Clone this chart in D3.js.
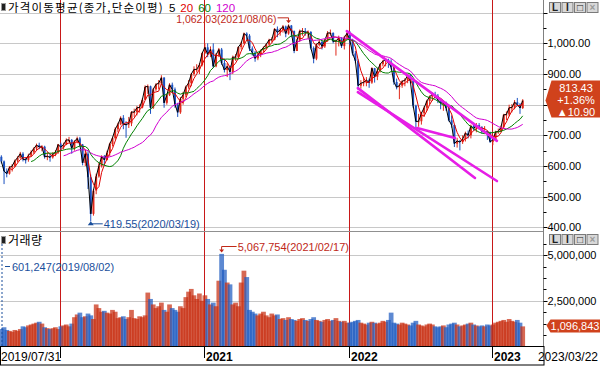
<!DOCTYPE html>
<html>
<head>
<meta charset="utf-8">
<script src="https://cdn.jsdelivr.net/npm/d3@7"></script>
<style>
body { margin: 0; background: #fff; }
svg { display: block; }
text { font-family: "Liberation Sans", Arial, sans-serif; }
.kr { font-family: "Noto Sans CJK KR", sans-serif; }
</style>
</head>
<body>
<div id="chart"></div>
<script>
// weekly bars, week 0 = week of 2019/07/31, week 190 = week of 2023/03/22
let weekClose = [
    615, 583, 575, 595, 600, 617, 627, 640, 622, 620, 634, 645, 657, 668, 662, 663, 630, 632, 628, 638, 645, 670,
    661, 670, 685, 685, 658, 680, 690, 670, 610,
    640, 563, 444, 520, 566, 600,
    630, 620, 643, 672, 691, 720, 736, 757, 736, 735, 739, 776, 776, 790, 791, 816, 858, 860,
    790, 850, 866, 870, 888, 806, 831, 865, 850, 800, 775, 819, 832, 858, 870, 900, 915, 915, 930, 968,
    987, 964, 980, 925, 963, 980, 936, 913, 925, 907, 955, 955, 988, 1000, 1032, 1025, 983, 970, 951, 962, 977, 986, 997, 1011, 1012, 1047,
    1036, 1044, 1055, 1032, 1058, 1040, 975, 1009, 1040, 1040, 1036, 1037, 985, 950, 995, 1005, 990, 1010, 1034, 1034, 1006, 1008, 1017, 991, 1019, 1033,
    1010, 967, 943, 862, 870, 873, 880, 872, 919, 891, 911, 932, 942, 946, 940, 922, 874, 857, 862, 876, 880, 895, 877, 797,
    745, 746, 772, 790, 812, 826, 834, 829, 815, 805, 806, 789, 749, 734, 673, 682, 678, 688, 707, 700, 731, 722, 733, 726, 713, 714, 709, 679,
    685, 711, 713, 727, 767, 768, 790, 791, 808, 800, 789, 813.43
];
let weekHigh = [
    635, 618, 592, 600, 606, 621, 632, 646, 645, 628, 640, 651, 661, 673, 676, 668, 666, 645, 640, 645, 652, 672,
    676, 676, 690, 695, 688, 684, 696, 695, 672,
    650, 648, 572, 525, 575, 610,
    635, 636, 650, 676, 696, 726, 741, 762, 766, 746, 760, 779, 787, 796, 801, 821, 863, 866,
    862, 855, 870, 880, 896, 890, 836, 870, 872, 856, 806, 825, 842, 862, 880, 903, 925, 932, 936, 970,
    1000, 1000, 990, 1000, 968, 985, 985, 950, 935, 928, 960, 965, 990, 1005, 1035, 1036, 1030, 990, 975, 968, 980, 990, 1000, 1015, 1020, 1050,
    1055, 1050, 1060, 1058, 1062.03, 1060, 1042, 1015, 1045, 1050, 1050, 1042, 1040, 990, 1000, 1012, 1010, 1015, 1040, 1045, 1036, 1012, 1025, 1020, 1025, 1040,
    1040, 1015, 975, 948, 880, 890, 890, 885, 922, 920, 920, 935, 946, 952, 950, 948, 924, 885, 870, 880, 886, 900, 900, 878,
    800, 770, 776, 795, 816, 830, 840, 842, 835, 820, 815, 810, 795, 765, 736, 692, 685, 700, 712, 716, 735, 742, 740, 740, 730, 730, 716, 712,
    695, 715, 722, 732, 770, 778, 800, 802, 815, 822, 805, 818
];
let weekLow = [
    608, 541, 563, 572, 582, 596, 612, 624, 615, 608, 614, 630, 640, 650, 655, 648, 624, 619, 614, 624, 632, 640,
    652, 654, 668, 678, 640, 650, 674, 664, 602,
    600, 525, 419.55, 438, 508, 562,
    595, 602, 618, 632, 664, 686, 710, 733, 720, 692, 724, 730, 760, 765, 774, 788, 815, 835,
    770, 786, 845, 850, 865, 790, 800, 828, 840, 790, 760, 770, 800, 825, 852, 860, 893, 905, 900, 925,
    965, 955, 955, 920, 922, 955, 930, 905, 890, 880, 900, 943, 950, 980, 998, 1010, 975, 960, 940, 945, 955, 970, 980, 993, 1003, 1010,
    1020, 1025, 1035, 1020, 1028, 1020, 968, 975, 1005, 1025, 1025, 1015, 980, 935, 945, 990, 980, 985, 1005, 1025, 1000, 960, 990, 985, 980, 1015,
    995, 960, 935, 848, 852, 860, 860, 855, 868, 872, 880, 905, 925, 925, 920, 915, 865, 850, 818, 855, 860, 870, 870, 790,
    718, 728, 735, 760, 780, 800, 812, 820, 805, 785, 780, 780, 745, 725, 662, 660, 651, 672, 680, 690, 690, 715, 710, 718, 705, 705, 685, 675,
    668, 683, 705, 710, 722, 750, 762, 775, 785, 795, 770, 786
];
// daily volume level of each week, millions
let weekVolume = [
    0.95, 1.05, 0.9, 0.85, 0.8, 0.9, 0.85, 0.95,
    1.1, 1.05, 1.15, 1.2, 1.25, 1.3, 1.35, 1.25,
    1.05, 1.0, 0.95, 1.0, 1.05, 0.95,
    1.1, 1.15, 1.2, 1.1, 1.25,
    1.6, 1.75, 1.85, 1.6,
    1.65, 1.8, 1.7, 1.5,
    2.3, 2.1,
    1.9, 1.95, 1.85, 1.8, 2.0, 1.9,
    1.55, 1.6, 1.65, 1.5, 1.6, 2.0, 1.55, 1.5, 1.65, 1.6, 1.7,
    2.95, 2.6, 2.3, 2.1,
    2.2, 2.4, 2.0, 1.9, 2.3, 2.1, 2.0, 1.9, 2.2, 2.1,
    2.7, 3.0, 3.15, 2.8, 2.6, 2.9,
    2.5, 2.8, 2.6, 2.3, 2.4, 2.2,
    3.6, 5.07, 4.2, 3.5, 3.4,
    2.3, 2.4, 2.2,
    3.5, 4.15, 3.8,
    2.0, 1.9, 1.8, 1.7, 1.8, 1.9, 1.7, 1.6, 1.8, 1.7, 1.75,
    1.5, 1.55, 1.45, 1.6, 1.5, 1.45, 1.4, 1.5, 1.55, 1.45, 1.4, 1.5, 1.6, 1.45, 1.4, 1.35, 1.45, 1.5, 1.4, 1.45, 1.55, 1.4, 1.35, 1.4, 1.3,
    1.3, 1.35, 1.4, 1.45, 1.3, 1.25, 1.2, 1.3, 1.35, 1.3, 1.25, 1.3, 1.4, 1.35, 1.45, 1.85,
    1.3, 1.25, 1.2, 1.3, 1.25, 1.2, 1.15, 1.3, 1.4, 1.2, 1.15, 1.1, 1.2, 1.25, 1.2, 1.1, 1.05, 1.1, 1.15, 1.05, 1.2, 1.25, 1.3, 1.2, 1.1, 1.15, 1.2, 1.25, 1.3, 1.2, 1.15, 1.1,
    1.15, 1.1, 1.2, 1.15, 1.2, 1.3, 1.35, 1.4, 1.45, 1.35, 1.5, 1.4, 1.35, 1.45, 1.3, 1.096843
];
let firstOpen = 630;

let yearStartWeek = [22, 75, 127, 179];
let yearLabels = ["2020", "2021", "2022", "2023"];

// moving average periods: label (days) and length in weekly bars
let maDays = [5, 20, 60, 120];
let maWeeks = [1, 4, 12, 24];
let maColors = ["#000000", "#e00000", "#008000", "#d000d0"];

let priceTicks = [400, 500, 600, 700, 800, 900, 1000, 1100];
let priceLabelTicks = [400, 500, 600, 700, 900, 1000];
let volTicks = [2.5, 5];

// hand drawn trend lines [week, price]
let trendLines = [
    [[126.4, 1040], [181.0, 682]],
    [[130.4, 854], [173.0, 561]],
    [[130.4, 841], [181.0, 551]],
    [[151.9, 724], [165.7, 691]]
];

let maxPrice = {week: 105, value: 1062.03, date: "2021/08/06"};
let minPrice = {week: 33, value: 419.55, date: "2020/03/19"};
let maxVol = {week: 81, value: 5067754, date: "2021/02/17"};
let minVol = {week: 0, value: 601247, date: "2019/08/02"};
let lastChange = {pct: 1.36, diff: 10.90};
let lastVolume = 1096843;

if (weekHigh.length != weekClose.length || weekLow.length != weekClose.length || weekVolume.length != weekClose.length) {
    throw new Error("length mismatch " + weekClose.length + " " + weekHigh.length + " " + weekLow.length + " " + weekVolume.length);
}

let data = weekClose.map(function(c, i) {
    return {i: i, open: i == 0 ? firstOpen : weekClose[i - 1], close: c, high: weekHigh[i], low: weekLow[i], vol: weekVolume[i]};
});

let width = 600, height = 366;
let axisX = 543.5;

let svg = d3.select("#chart").append("svg")
    .attr("width", width)
    .attr("height", height);

let x = d3.scaleLinear()
    .domain([0, yearStartWeek[0], yearStartWeek[1], yearStartWeek[2], yearStartWeek[3], weekClose.length - 0.4])
    .range([0, 59.5, 203.5, 348.5, 491.5, 523]);
let y = d3.scaleLinear().domain([388, 1099]).range([231, 13]);
let yv = d3.scaleLinear().domain([0, 6.27]).range([346.4, 232]);

svg.append("defs").append("clipPath").attr("id", "pclip")
    .append("rect").attr("x", 0).attr("y", 13).attr("width", axisX).attr("height", 218);

// grid lines
svg.append("g").selectAll("line").data(priceTicks).enter().append("line")
    .attr("x1", 0).attr("x2", axisX)
    .attr("y1", d => Math.round(y(d)) + 0.5).attr("y2", d => Math.round(y(d)) + 0.5)
    .attr("stroke", "#c8c8c8");
svg.append("g").selectAll("line").data(volTicks).enter().append("line")
    .attr("x1", 0).attr("x2", axisX)
    .attr("y1", d => Math.round(yv(d)) + 0.5).attr("y2", d => Math.round(yv(d)) + 0.5)
    .attr("stroke", "#c8c8c8");

// year separators
svg.append("g").selectAll("line").data(yearStartWeek).enter().append("line")
    .attr("x1", d => Math.round(x(d)) + 0.5).attr("x2", d => Math.round(x(d)) + 0.5)
    .attr("y1", 0).attr("y2", 350)
    .attr("stroke", "#c81818");

// pane frame
svg.append("line").attr("x1", 0).attr("x2", axisX).attr("y1", 231.5).attr("y2", 231.5).attr("stroke", "#909090");
svg.append("line").attr("x1", axisX).attr("x2", axisX).attr("y1", 0).attr("y2", 347).attr("stroke", "#808080");

let upColor = "#e0281a", downColor = "#1a50c0";
let plot = svg.append("g").attr("clip-path", "url(#pclip)");

// volume bars, drawn wide and translucent so neighbouring weeks blend like the dense daily bars
svg.append("g").selectAll("rect").data(data).enter().append("rect")
    .attr("x", d => x(d.i) - 1)
    .attr("width", d => x(d.i + 1) - x(d.i) + 2)
    .attr("y", d => yv(d.vol))
    .attr("height", d => yv(0) - yv(d.vol))
    .attr("fill", d => d.close >= d.open ? "#c82e10" : "#1e5cc0")
    .attr("fill-opacity", 0.72);

// candles
plot.append("g").selectAll("line").data(data).enter().append("line")
    .attr("x1", d => x(d.i + 0.5)).attr("x2", d => x(d.i + 0.5))
    .attr("y1", d => y(d.high)).attr("y2", d => y(d.low))
    .attr("stroke", d => d.close >= d.open ? upColor : downColor)
    .attr("stroke-width", 1);
plot.append("g").selectAll("rect").data(data).enter().append("rect")
    .attr("x", d => x(d.i + 0.5) - 1)
    .attr("width", 2)
    .attr("y", d => y(Math.max(d.open, d.close)))
    .attr("height", d => Math.max(1, Math.abs(y(d.open) - y(d.close))))
    .attr("fill", d => d.close >= d.open ? upColor : downColor);

// moving averages
maWeeks.forEach(function(n, k) {
    let pts = [];
    for (let i = n - 1; i < weekClose.length; i++) {
        pts.push([i, d3.mean(weekClose.slice(i - n + 1, i + 1))]);
    }
    plot.append("path")
        .datum(pts)
        .attr("fill", "none")
        .attr("stroke", maColors[k])
        .attr("stroke-width", 1)
        .attr("d", d3.line().x(p => x(p[0] + 0.5)).y(p => y(p[1])));
});

// trend lines
plot.append("g").selectAll("line").data(trendLines).enter().append("line")
    .attr("x1", d => x(d[0][0])).attr("y1", d => y(d[0][1]))
    .attr("x2", d => x(d[1][0])).attr("y2", d => y(d[1][1]))
    .attr("stroke", "#e61ee6")
    .attr("stroke-width", 2.6)
    .attr("stroke-linecap", "round");

// max / min price labels
let fmt2 = d3.format(",.2f");
let mx = x(maxPrice.week + 0.5), my = y(maxPrice.value);
svg.append("text").attr("x", mx - 12).attr("y", my - 1.5).attr("text-anchor", "end")
    .attr("font-size", 10.5).attr("fill", "#c02818")
    .text(fmt2(maxPrice.value) + "(" + maxPrice.date + ")");
svg.append("path").attr("d", `M${mx - 11},${my - 6.5}H${mx}V${my - 3}`).attr("fill", "none").attr("stroke", "#c02818");
svg.append("path").attr("d", `M${mx - 2.5},${my - 4}L${mx + 2.5},${my - 4}L${mx},${my - 1}Z`).attr("fill", "#c02818");

let nx = x(minPrice.week + 0.5), ny = y(minPrice.value);
svg.append("line").attr("x1", nx).attr("x2", nx + 12).attr("y1", ny + 2.5).attr("y2", ny + 2.5).attr("stroke", "#1a4f9c");
svg.append("path").attr("d", `M${nx - 3},${ny + 4}L${nx + 3},${ny + 4}L${nx},${ny}Z`).attr("fill", "#1a4f9c");
svg.append("text").attr("x", nx + 13).attr("y", ny + 6.5)
    .attr("font-size", 11).attr("fill", "#1a4f9c")
    .attr("clip-path", "url(#pclip)")
    .text(fmt2(minPrice.value) + "(" + minPrice.date + ")");

// volume max / min labels
let fmt0 = d3.format(",");
let vx = x(maxVol.week + 0.5), vy = 246.5;
svg.append("path").attr("d", `M${vx},${vy + 5}V${vy}H${vx + 15}`).attr("fill", "none").attr("stroke", "#c02818");
svg.append("path").attr("d", `M${vx - 2.5},${vy + 3}L${vx + 2.5},${vy + 3}L${vx},${vy + 6}Z`).attr("fill", "#c02818");
svg.append("text").attr("x", vx + 16).attr("y", vy + 4)
    .attr("font-size", 11).attr("fill", "#c02818")
    .text(fmt0(maxVol.value) + "(" + maxVol.date + ")");
let ux = x(minVol.week) + 2;
svg.append("line").attr("x1", ux).attr("x2", ux).attr("y1", 236).attr("y2", 346)
    .attr("stroke", "#1a4f9c").attr("stroke-dasharray", "2,2");
svg.append("line").attr("x1", ux + 3).attr("x2", ux + 8).attr("y1", 266.5).attr("y2", 266.5).attr("stroke", "#1a4f9c");
svg.append("text").attr("x", ux + 10).attr("y", 270.5)
    .attr("font-size", 11).attr("fill", "#1a4f9c")
    .text(fmt0(minVol.value) + "(" + minVol.date + ")");

// right axis: price
let axisG = svg.append("g");
axisG.selectAll(".maj").data(priceTicks).enter().append("line")
    .attr("x1", axisX).attr("x2", axisX + 4)
    .attr("y1", d => Math.round(y(d)) + 0.5).attr("y2", d => Math.round(y(d)) + 0.5)
    .attr("stroke", "#000");
axisG.selectAll(".min").data(priceTicks.slice(0, -1).map(d => d + 50)).enter().append("line")
    .attr("x1", axisX).attr("x2", axisX + 3)
    .attr("y1", d => Math.round(y(d)) + 0.5).attr("y2", d => Math.round(y(d)) + 0.5)
    .attr("stroke", "#000");
axisG.selectAll("text").data(priceLabelTicks).enter().append("text")
    .attr("x", axisX + 4).attr("y", d => y(d) + 4)
    .attr("font-size", 11)
    .text(d => fmt2(d));

// right axis: volume
let volMinor = [];
for (let v = 0.625; v < 6.2; v += 0.625) volMinor.push(v);
axisG.selectAll(".vmin").data(volMinor).enter().append("line")
    .attr("x1", axisX).attr("x2", d => axisX + (volTicks.indexOf(d) >= 0 ? 4 : 3))
    .attr("y1", d => Math.round(yv(d)) + 0.5).attr("y2", d => Math.round(yv(d)) + 0.5)
    .attr("stroke", "#000");
axisG.selectAll(".vl").data(volTicks).enter().append("text")
    .attr("x", axisX + 4).attr("y", d => yv(d) + 4)
    .attr("font-size", 11)
    .text(d => fmt0(d * 1000000));

// last price box
let last = data[data.length - 1];
let ly = y(last.close);
let boxColor = "#d0421c";
svg.append("path")
    .attr("d", `M${axisX + 2},${ly}L${axisX + 8},${ly - 20}H600V${ly + 17}H${axisX + 8}Z`)
    .attr("fill", boxColor);
[fmt2(last.close), "+" + lastChange.pct.toFixed(2) + "%", "\u25B2" + lastChange.diff.toFixed(2)].forEach(function(t, k) {
    svg.append("text").attr("x", 576).attr("y", ly - 9 + k * 12.3)
        .attr("text-anchor", "middle").attr("font-size", 11).attr("fill", "#fff")
        .text(t);
});
let lvy = yv(lastVolume / 1000000);
svg.append("path")
    .attr("d", `M${axisX + 3},${lvy - 1}L${axisX + 7},${lvy - 7}H600V${lvy + 6}H${axisX + 7}Z`)
    .attr("fill", boxColor);
svg.append("text").attr("x", 575).attr("y", lvy + 3.5)
    .attr("text-anchor", "middle").attr("font-size", 11).attr("fill", "#fff")
    .text(fmt0(lastVolume));

// titles
function paneIcon(px, py) {
    svg.append("rect").attr("x", px).attr("y", py).attr("width", 5).attr("height", 8).attr("fill", "#9a9a9a");
    svg.append("rect").attr("x", px + 1).attr("y", py + 1).attr("width", 3).attr("height", 6).attr("fill", "#202020");
}
paneIcon(1, 3);
let title = svg.append("text").attr("class", "kr").attr("x", 8).attr("y", 11.5).attr("font-size", 11.5);
title.append("tspan").attr("fill", "#000").attr("letter-spacing", 1.2).text("가격이동평균(종가,단순이평)");
maDays.forEach(function(d, k) {
    title.append("tspan").attr("fill", maColors[k]).attr("dx", k == 0 ? 5 : 5).attr("font-family", "Liberation Sans").attr("font-size", 11.5).text(d);
});
paneIcon(1, 236);
svg.append("text").attr("class", "kr").attr("x", 8).attr("y", 245).attr("font-size", 12).attr("letter-spacing", 0.5).text("거래량");

// pane buttons
function paneButtons(py) {
    ["L", "I", "\u25A1", "\u00D7"].forEach(function(t, k) {
        let bx = 549 + k * 12.5;
        svg.append("rect").attr("x", bx + 0.5).attr("y", py + 0.5).attr("width", 11).attr("height", 10)
            .attr("fill", "#d8d8d8").attr("stroke", "#7a7a7a");
        svg.append("text").attr("x", bx + 6).attr("y", py + 9).attr("text-anchor", "middle")
            .attr("font-size", 10).attr("font-weight", "bold").attr("fill", k == 3 ? "#9a9a9a" : "#202020").text(t);
    });
}
paneButtons(2);
paneButtons(234);

// time axis band
svg.append("rect").attr("x", 0.5).attr("y", 346.5).attr("width", axisX).attr("height", 18.5)
    .attr("fill", "#fff").attr("stroke", "#000");
svg.append("g").selectAll("line").data(yearStartWeek).enter().append("line")
    .attr("x1", d => Math.round(x(d)) + 0.5).attr("x2", d => Math.round(x(d)) + 0.5)
    .attr("y1", 347).attr("y2", 358)
    .attr("stroke", "#000");
svg.append("text").attr("x", 1).attr("y", 361).attr("font-size", 12).text("2019/07/31");
svg.append("g").selectAll("text").data(yearLabels.slice(1)).enter().append("text")
    .attr("x", (d, k) => Math.round(x(yearStartWeek[k + 1])) + 2)
    .attr("y", 361).attr("font-size", 12).attr("font-weight", "bold")
    .text(d => d);
svg.append("text").attr("x", 598).attr("y", 361).attr("text-anchor", "end").attr("font-size", 12).text("2023/03/22");
</script>
</body>
</html>
